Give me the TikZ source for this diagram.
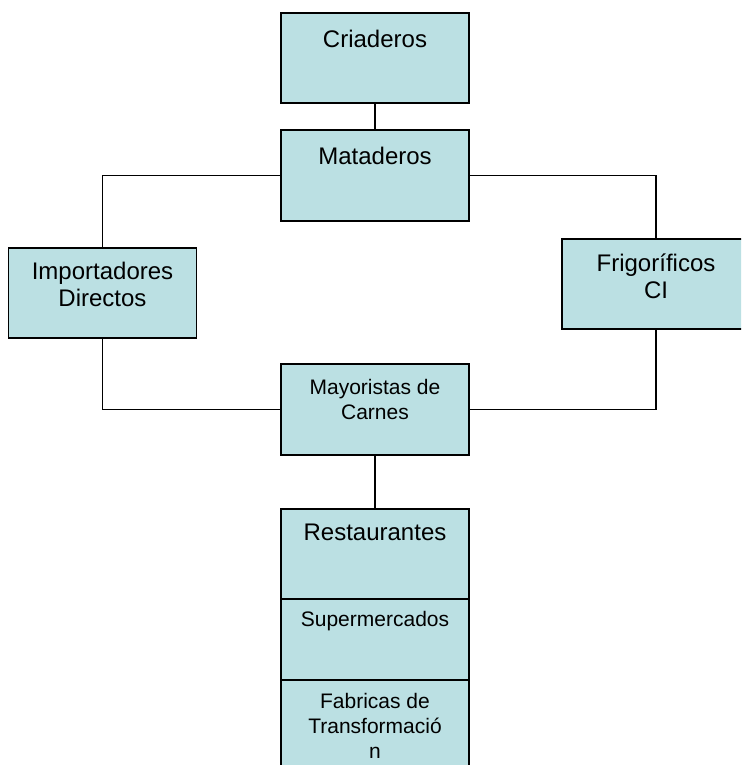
\documentclass[tikz,border=0pt]{standalone}
\usepackage{fontspec}
\setmainfont{Liberation Sans}
\usetikzlibrary{positioning}
\definecolor{boxcyan}{RGB}{187,224,227}

\begin{document}
\begin{tikzpicture}[
    x=0.5pt, y=-0.5pt,
    box/.style={draw=black, line width=0.8pt, fill=boxcyan, minimum width=94pt, minimum height=45pt, inner sep=0pt},
    biglabel/.style={font=\fontsize{12}{13.5}\selectfont, align=center, inner sep=0pt},
    smalllabel/.style={font=\fontsize{10.5}{12.5}\selectfont, align=center, inner sep=0pt},
    link/.style={line width=0.7pt}
]
\clip (0,0) rectangle (741,765);

% Boxes
\node[box] (criaderos) at (375,58) {};
\node[box, minimum height=45.5pt] (mataderos) at (375,175.5) {};
\node[box] (importadores) at (102.5,293) {};
\node[box] (frigorificos) at (656,284) {};
\node[box, minimum height=45.5pt] (mayoristas) at (375,409.5) {};
\node[box] (restaurantes) at (375,554) {};
\node[box, minimum height=40.5pt] (supermercados) at (375,639.5) {};
\node[box] (fabricas) at (375,725) {};

% Texts
\node[biglabel] (criaderos-txt) at ([yshift=-13.5pt]criaderos.north) {Criaderos};
\node[biglabel] (mataderos-txt) at ([yshift=-13.5pt]mataderos.north) {Mataderos};
\node[biglabel] (importadores-txt) at ([yshift=-18.5pt]importadores.north) {Importadores\\Directos};
\node[biglabel] (frigorificos-txt) at ([yshift=-19pt]frigorificos.north) {Frigoríficos\\CI};
\node[smalllabel] (mayoristas-txt) at ([yshift=-18.25pt]mayoristas.north) {Mayoristas de\\Carnes};
\node[biglabel] (restaurantes-txt) at ([yshift=-12pt]restaurantes.north) {Restaurantes};
\node[smalllabel] (supermercados-txt) at ([yshift=-11.5pt]supermercados.north) {Supermercados};
\node[smalllabel] (fabricas-txt) at ([yshift=-23.5pt]fabricas.north) {Fabricas de\\Transformació\\n};

% Connectors
\draw[link] (criaderos.south) -- (mataderos.north);
\draw[link] (mataderos.west) -| (importadores.north);
\draw[link] (mataderos.east) -| (frigorificos.north);
\draw[link] (importadores.south) |- (mayoristas.west);
\draw[link] (frigorificos.south) |- (mayoristas.east);
\draw[link] (mayoristas.south) -- (restaurantes.north);

\end{tikzpicture}
\end{document}
